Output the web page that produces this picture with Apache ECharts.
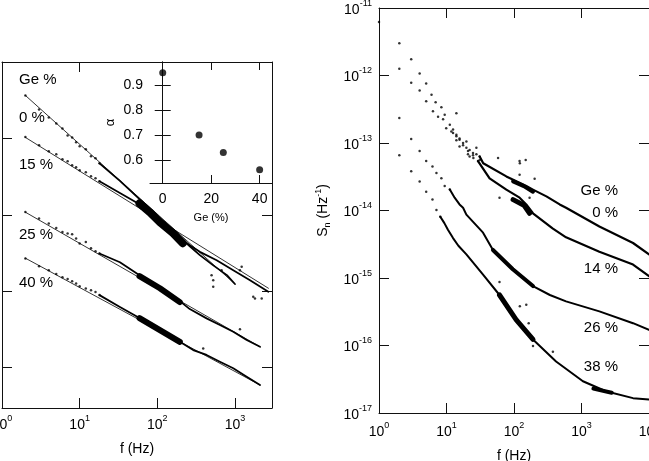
<!DOCTYPE html>
<html>
<head>
<meta charset="utf-8">
<script src="https://cdn.jsdelivr.net/npm/echarts@6/dist/echarts.min.js"></script>
<style>
  html, body { margin: 0; padding: 0; background: #fff; }
  #main { width: 649px; height: 461px; }
</style>
</head>
<body>
<div id="main"></div>
<script>
// left figure: spectra in arbitrary units, f in Hz
var dots0 = [[2,0.365],[3,0.239],[4,0.188],[5,0.157],[6,0.135],[7,0.109],[8,0.103],[9,0.0887],[10,0.0786],[12,0.0718],[14,0.0582],[16,0.0548],[18,0.0471]];
var dots15 = [[2,0.104],[3,0.081],[4,0.0676],[5,0.0618],[6,0.0531],[7,0.05],[8,0.0444],[9,0.0418],[10,0.0382],[12,0.036],[14,0.0319],[16,0.03],[18,0.0274]];
var dots25 = [[2,0.0109],[3,0.00891],[4,0.00767],[5,0.00672],[6,0.00596],[7,0.00568],[8,0.00556],[9,0.00489],[10,0.00421],[12,0.00441],[14,0.00365],[16,0.00333],[18,0.00311]];
var dots40 = [[2,0.00267],[3,0.00212],[4,0.00188],[5,0.00167],[6,0.00152],[7,0.00144],[8,0.00135],[9,0.00126],[10,0.00116],[12,0.00108],[14,0.00103],[16,0.000971],[18,0.000887]];

var trace0 = [[18,0.0471],[33,0.0278],[59,0.016],[108,0.009],[168,0.0059],[262,0.00387],[353,0.00296],[520,0.00219],[788,0.00162],[1000,0.00124]];
var trace15 = [[18,0.0274],[33,0.0193],[59,0.0137],[108,0.00798],[168,0.00556],[262,0.00399],[353,0.00327],[581,0.00254],[951,0.00188],[1563,0.00139],[2691,0.00098]];
var trace25 = [[18,0.00311],[33,0.00239],[59,0.00162],[108,0.00109],[195,0.00074],[262,0.000582],[431,0.00044],[640,0.00036],[951,0.000294],[1416,0.000229],[2103,0.000187]];
var trace40 = [[18,0.000887],[33,0.000618],[59,0.000444],[108,0.0003],[195,0.000217],[290,0.000169],[431,0.000146],[640,0.000119],[951,0.0000977],[1416,0.0000759],[2103,0.000059]];

var clump0 = [[59,0.0141],[80,0.0108],[108,0.00798],[160,0.00573],[213,0.00424]];
var clump25 = [[59,0.00157],[108,0.00109],[195,0.000718]];
var clump40 = [[59,0.000444],[108,0.000309],[195,0.000217]];

var fit0 = [[2,0.365],[1000,0.00124]];
var fit15 = [[2,0.103],[2700,0.00109]];
var fit25 = [[2,0.0108],[2100,0.000187]];
var fit40 = [[2,0.0027],[2100,0.000059]];

var strayLeft = [[500,0.00162],[525,0.00139],[525,0.00114],[673,0.00188],[1160,0.00188],[1220,0.00208],[1720,0.000842],[1810,0.000803],[2210,0.000803],[1160,0.000318],[390,0.000178]];

// inset: exponent alpha vs Ge content
var geContent = [0, 15, 25, 40];
var alpha = [0.95, 0.70, 0.63, 0.56];

// right figure: S_n (Hz^-1) vs f (Hz)
var sDots0 = [[1,6.2e-12],[2,3.0e-12],[3,1.74e-12],[4,1.07e-12],[5,7.6e-13],[6,5.2e-13],[6.9,4.0e-13],[8.4,3.4e-13],[9.4,2.63e-13],[11.2,1.86e-13],[12.5,1.58e-13],[14,1.26e-13],[14,1.32e-13],[15.6,1.17e-13],[15.6,1.12e-13],[17.6,9.3e-14],[19.7,1.05e-13],[19.7,8.5e-14],[22,7.9e-14],[24.7,7.1e-14],[27.7,8.5e-14],[27.7,6.8e-14],[31,6.3e-14],[31,5.6e-14]];
var sDots14 = [[2,1.26e-12],[3,7.8e-13],[4,6.0e-13],[5,4.17e-13],[6.3,2.95e-13],[7.5,2.45e-13],[8.9,2.24e-13],[9.9,1.66e-13],[11.8,1.48e-13],[12.5,1.41e-13],[14,1.1e-13],[15.6,8.9e-14],[17.6,1.0e-13],[20.8,7.6e-14],[20.8,6.8e-14],[22,6.3e-14],[24.7,6.6e-14],[25,6.0e-14],[29.3,5.4e-14]];
var sDots26 = [[2,2.34e-13],[3,1.15e-13],[4,7.6e-14],[5,5.4e-14],[6.2,4.5e-14],[7.1,3.6e-14],[8.4,3.0e-14],[9.4,2.3e-14],[11.2,2.04e-14]];
var sDots38 = [[2,6.6e-14],[3,3.8e-14],[4,2.7e-14],[5,1.9e-14],[6.2,1.45e-14],[7.1,1.02e-14],[8.1,8.1e-15]];

var sTrace0 = [[31,6.3e-14],[35,5.0e-14],[77,3.2e-14],[152,2.3e-14],[191,2.04e-14],[302,1.62e-14],[475,1.23e-14],[590,1.1e-14],[1840,5.8e-15],[5800,3.3e-15],[10000,2.24e-15]];
var sTrace14 = [[29.3,5.4e-14],[43.5,3.0e-14],[77,2.04e-14],[121,1.55e-14],[152,1.23e-14],[191,9.1e-15],[377,5.4e-15],[590,4.0e-15],[1840,2.45e-15],[5800,1.58e-15],[10000,1.07e-15]];
var sTrace26 = [[11.2,2.04e-14],[12.5,1.7e-14],[13.2,1.55e-14],[15.6,1.23e-14],[17.6,1.1e-14],[19.7,8.7e-15],[34.8,4.7e-15],[48.8,2.6e-15],[96,1.35e-15],[191,7.6e-16],[340,5.6e-16],[590,4.5e-16],[1840,3.2e-16],[5800,2.14e-16],[10000,1.7e-16]];
var sTrace38 = [[8.1,8.1e-15],[9.3,6.5e-15],[10.5,5.2e-15],[12.5,3.9e-15],[15,3.0e-15],[19.7,2.24e-15],[34.8,1.12e-15],[61,5.6e-16],[108,2.4e-16],[191,1.23e-16],[420,5.8e-17],[1050,2.95e-17],[2300,2.1e-17],[5800,1.66e-17],[10000,1.58e-17]];

var sClump0 = [[97,2.7e-14],[140,2.3e-14],[191,1.9e-14]];
var sClump14 = [[97,1.45e-14],[140,1.2e-14],[170,9.1e-15]];
var sClump26 = [[48.8,2.6e-15],[96,1.35e-15],[191,7.6e-16]];
var sClump38 = [[61,5.6e-16],[108,2.4e-16],[191,1.23e-16]];
var sClump38b = [[1500,2.3e-17],[2800,2.0e-17]];

var strayRight = [[14,2.75e-13],[58,6.0e-14],[121,5.4e-14],[149,5.6e-14],[202,2.95e-14],[121,3.4e-14],[61,1.55e-14],[170,1.55e-14],[122,5.0e-14],[61,8.7e-16],[122,3.8e-16],[152,4.0e-16],[165,2.14e-16],[191,9.8e-17],[377,8.1e-17]];

var leftTags = ["Ge %", "0 %", "15 %", "25 %", "40 %"];
var rightTags = ["Ge %", "0 %", "14 %", "26 %", "38 %"];

var FONT = '"Liberation Sans", Arial, Helvetica, sans-serif';
var INK = "#111";

function pow10(v) {
  var e = Math.round(Math.log10(v));
  return "{b|10}{s|" + e + "}";
}
var powRich = {
  b: { fontSize: 14, lineHeight: 18, verticalAlign: "bottom", color: "#000", fontFamily: FONT },
  s: { fontSize: 9, lineHeight: 9, verticalAlign: "top", color: "#000", fontFamily: FONT }
};

function frame(extra) {
  var a = {
    axisLine: { show: true, lineStyle: { color: INK, width: 1 } },
    axisTick: { show: true, inside: true, length: 10, lineStyle: { color: INK } },
    axisLabel: { show: false },
    splitLine: { show: false }
  };
  for (var k in extra) {
    if (typeof extra[k] === "object" && a[k] && !Array.isArray(extra[k])) {
      a[k] = Object.assign({}, a[k], extra[k]);
    } else {
      a[k] = extra[k];
    }
  }
  return a;
}

function line(xi, yi, data, w) {
  return { type: "line", xAxisIndex: xi, yAxisIndex: yi, data: data, symbol: "none",
    lineStyle: { color: "#000", width: w, cap: "round", join: "round" }, silent: true };
}
function dots(xi, yi, data, size) {
  return { type: "scatter", xAxisIndex: xi, yAxisIndex: yi, data: data, symbolSize: size,
    itemStyle: { color: "#000" }, silent: true };
}

var chartDom = document.getElementById("main");
var myChart = echarts.init(chartDom, null, { renderer: "canvas" });
var option;

var inset = geContent.map(function (g, i) { return [g, alpha[i]]; });

option = {
  animation: false,
  backgroundColor: "#fff",
  textStyle: { fontFamily: FONT, color: "#000" },
  grid: [
    { left: 2, top: 62, width: 270, height: 346, outerBoundsMode: "none" },
    { left: 150, top: 62, width: 122, height: 121, show: true, backgroundColor: "#fff", borderWidth: 0, outerBoundsMode: "none" },
    { left: 379, top: 8, width: 270, height: 405, outerBoundsMode: "none" }
  ],
  xAxis: [
    frame({ type: "log", gridIndex: 0, min: 1, max: 3000, position: "bottom",
      axisTick: { customValues: [10, 100, 1000] },
      axisLabel: { show: true, customValues: [1, 10, 100, 1000], formatter: pow10, rich: powRich, margin: 6 },
      name: "f (Hz)", nameLocation: "middle", nameGap: 34,
      nameTextStyle: { fontSize: 14, color: "#000", fontFamily: FONT } }),
    frame({ type: "log", gridIndex: 0, min: 1, max: 3000, position: "top",
      axisTick: { customValues: [10] } }),
    frame({ type: "value", gridIndex: 1, min: -5.25, max: 45.1, position: "bottom",
      axisTick: { length: 8, customValues: [0, 20, 40] },
      axisLabel: { show: true, customValues: [0, 20, 40], fontSize: 14, color: "#000", margin: 9 },
      name: "Ge (%)", nameLocation: "middle", nameGap: 29,
      nameTextStyle: { fontSize: 11, color: "#000", fontFamily: FONT } }),
    frame({ type: "value", gridIndex: 1, min: -5.25, max: 45.1, position: "top",
      axisTick: { length: 8, customValues: [0, 20, 40] } }),
    frame({ type: "log", gridIndex: 2, min: 1, max: 10000, position: "bottom",
      axisTick: { customValues: [10, 100, 1000] },
      axisLabel: { show: true, customValues: [1, 10, 100, 1000, 10000], formatter: pow10, rich: powRich, margin: 8 },
      name: "f (Hz)", nameLocation: "middle", nameGap: 36,
      nameTextStyle: { fontSize: 14, color: "#000", fontFamily: FONT } }),
    frame({ type: "log", gridIndex: 2, min: 1, max: 10000, position: "top",
      axisTick: { customValues: [10, 100, 1000] } })
  ],
  yAxis: [
    frame({ type: "log", gridIndex: 0, min: 2.95e-5, max: 1, position: "left",
      axisTick: { customValues: [0.1, 0.01, 0.001, 0.0001] } }),
    frame({ type: "log", gridIndex: 0, min: 2.95e-5, max: 1, position: "right",
      axisTick: { customValues: [0.01, 0.001, 0.0001] } }),
    frame({ type: "value", gridIndex: 1, min: 0.507, max: 0.993, position: "left",
      axisTick: { length: 8, customValues: [0.6, 0.7, 0.8, 0.9] },
      axisLabel: { show: true, customValues: [0.6, 0.7, 0.8, 0.9], fontSize: 14, color: "#000", margin: 7,
        formatter: function (v) { return v.toFixed(1); } },
      name: "α", nameLocation: "middle", nameGap: 33, nameRotate: 90,
      nameTextStyle: { fontSize: 13, color: "#000", fontFamily: FONT } }),
    frame({ type: "value", gridIndex: 1, min: 0.507, max: 0.993, position: "right",
      axisTick: { length: 8, customValues: [0.6, 0.7, 0.8, 0.9] } }),
    frame({ type: "log", gridIndex: 2, min: 1e-17, max: 1e-11, position: "left",
      axisTick: { customValues: [1e-16, 1e-15, 1e-14, 1e-13, 1e-12] },
      axisLabel: { show: true, customValues: [1e-17, 1e-16, 1e-15, 1e-14, 1e-13, 1e-12, 1e-11],
        formatter: pow10, rich: powRich, margin: 7 },
      name: "{b|S}{sub|n}{b| (Hz}{sup|-1}{b|)}", nameLocation: "middle", nameGap: 47, nameRotate: 90,
      nameTextStyle: { rich: {
        b: { fontSize: 14, lineHeight: 18, verticalAlign: "middle", color: "#000", fontFamily: FONT },
        sub: { fontSize: 9, lineHeight: 9, verticalAlign: "bottom", color: "#000", fontFamily: FONT },
        sup: { fontSize: 9, lineHeight: 9, verticalAlign: "top", color: "#000", fontFamily: FONT }
      } } }),
    frame({ type: "log", gridIndex: 2, min: 1e-17, max: 1e-11, position: "right",
      axisTick: { customValues: [1e-16, 1e-15, 1e-14, 1e-13, 1e-12] } })
  ],
  graphic: leftTags.map(function (t, i) {
    var ys = [80, 118, 165, 235, 283];
    return { type: "text", x: 19, y: ys[i], style: { text: t, fontSize: 15, fontFamily: FONT,
      fill: "#000", verticalAlign: "middle", align: "left" } };
  }).concat(rightTags.map(function (t, i) {
    var ys = [191, 213, 269, 328, 367];
    return { type: "text", x: 618, y: ys[i], style: { text: t, fontSize: 15, fontFamily: FONT,
      fill: "#000", verticalAlign: "middle", align: "right" } };
  })),
  series: [
    // left panel
    line(0, 0, fit0, 0.8), line(0, 0, fit15, 0.8), line(0, 0, fit25, 0.8), line(0, 0, fit40, 0.8),
    line(0, 0, trace0, 1.8), line(0, 0, trace15, 1.8), line(0, 0, trace25, 1.8), line(0, 0, trace40, 1.8),
    line(0, 0, clump0, 8), line(0, 0, clump25, 6), line(0, 0, clump40, 6),
    dots(0, 0, dots0, 2.5), dots(0, 0, dots15, 2.5), dots(0, 0, dots25, 2.5), dots(0, 0, dots40, 2.5),
    dots(0, 0, strayLeft, 2.5),
    // inset
    dots(2, 2, inset, 7),
    // right panel
    line(4, 4, sTrace0, 2.2), line(4, 4, sTrace14, 2.2), line(4, 4, sTrace26, 2), line(4, 4, sTrace38, 2),
    line(4, 4, sClump0, 4), line(4, 4, sClump14, 5), line(4, 4, sClump26, 4), line(4, 4, sClump38, 5),
    line(4, 4, sClump38b, 4),
    dots(4, 4, sDots0, 2.5), dots(4, 4, sDots14, 2.5), dots(4, 4, sDots26, 2.5), dots(4, 4, sDots38, 2.5),
    dots(4, 4, strayRight, 2.5)
  ]
};

option && myChart.setOption(option);
</script>
</body>
</html>
